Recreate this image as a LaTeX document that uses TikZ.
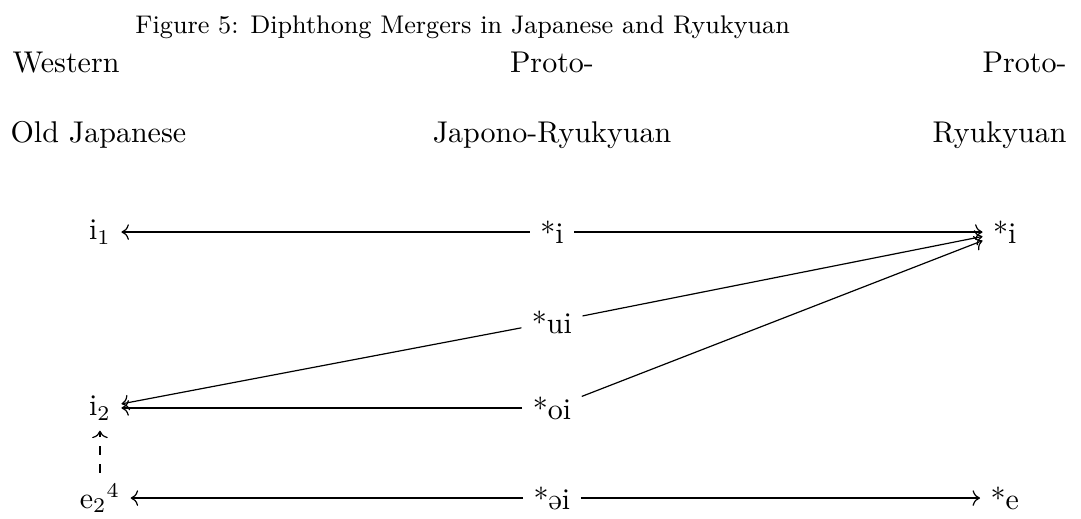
\documentclass[tikz,border=0pt]{standalone}
\usepackage{graphicx}
\usetikzlibrary{arrows.meta}

% schwa as a turned e
\newcommand{\schwa}{\rotatebox[origin=c]{180}{e}}

\tikzset{
    heading/.style={inner sep=0pt},
    captiontext/.style={font=\fontsize{8.5}{10}\selectfont}
}

\begin{document}
\begin{tikzpicture}[scale=1]
\useasboundingbox (0,0) rectangle (12.663,6.068);

% Title
\node[captiontext, anchor=base] (title) at (5.42,5.68) {Figure 5: Diphthong Mergers in Japanese and Ryukyuan};

% Column headings
\node[heading, anchor=base west] (hwoj) at (0.14,5.224) {Western};
\node[heading, anchor=base west] (hoj) at (0.117,4.393) {Old Japanese};
\node[heading, anchor=base] (hpjr) at (6.466,5.224) {Proto-};
\node[heading, anchor=base] (hjr) at (6.466,4.393) {Japono-Ryukyuan};
\node[heading, anchor=base east] (hpr) at (12.50,5.224) {Proto-};
\node[heading, anchor=base east] (hr) at (12.50,4.393) {Ryukyuan};

% Western Old Japanese
\node (oji) at (1.171,3.350) {i$_1$};
\node (ojii) at (1.171,1.289) {i$_2$};
\node (oje) at (1.171,0.234) {e$_2{}^4$};

% Proto-Japono-Ryukyuan
\node (pji) at (6.466,3.350) {*i};
\node (pjui) at (6.466,2.296) {*ui};
\node (pjoi) at (6.466,1.289) {*oi};
\node (pjei) at (6.466,0.234) {*\schwa i};

% Proto-Ryukyuan
\node (pri) at (11.77,3.350) {*i};
\node (pre) at (11.77,0.234) {*e};

% Mergers
\draw[->] (pji) -- (oji);
\draw[->] (pji) -- (pri);
\draw[->] (pjui) -- (pri);
\draw[->] (pjoi) -- (pri);
\draw[->] (pjui) -- (ojii);
\draw[->] (pjoi) -- (ojii);
\draw[->] (pjei) -- (oje);
\draw[->] (pjei) -- (pre);

% Raising
\draw[->, dashed] (oje) -- (ojii);

\end{tikzpicture}
\end{document}
